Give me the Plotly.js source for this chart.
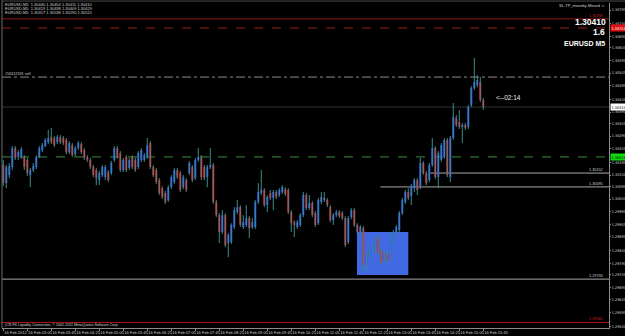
<!DOCTYPE html>
<html><head><meta charset="utf-8">
<script src="https://cdn.plot.ly/plotly-3.0.1.min.js"></script>
<style>html,body{margin:0;padding:0;background:#000;}#chart{width:625px;height:336px;}</style>
</head><body><div id="chart"></div>
<script>
// ---- EURUSD M5 candles (16 Feb 2012, 02:25 .. 15:45) ----
const opens=[
1.30180,1.30108,1.30140,1.30172,1.30247,1.30212,1.30212,1.30212,1.30200,1.30140,
1.30160,1.30172,1.30212,1.30239,1.30255,1.30271,1.30291,1.30287,1.30271,1.30291,
1.30287,1.30279,1.30231,1.30259,1.30223,1.30247,1.30263,1.30239,1.30212,1.30200,
1.30172,1.30160,1.30120,1.30140,1.30132,1.30152,1.30148,1.30200,1.30247,1.30227,
1.30160,1.30212,1.30168,1.30212,1.30200,1.30172,1.30200,1.30200,1.30212,1.30267,
1.30172,1.30160,1.30120,1.30088,1.30069,1.30041,1.30092,1.30112,1.30160,1.30148,
1.30092,1.30120,1.30148,1.30172,1.30128,1.30200,1.30208,1.30172,1.30132,1.30172,
1.30180,1.30033,1.29981,1.29914,1.29981,1.29870,1.29874,1.29934,1.29993,1.30013,
1.29934,1.29942,1.29969,1.29934,1.29934,1.30033,1.30069,1.30081,1.30021,1.30069,
1.30049,1.30073,1.30061,1.30073,1.30084,1.30081,1.29993,1.29953,1.29934,1.29942,
1.29981,1.30061,1.30009,1.30029,1.29989,1.29949,1.30033,1.30049,1.30041,1.30013,
1.29961,1.29981,1.29993,1.29989,1.29969,1.29874,1.29973,1.30001,1.29942,1.29910,
1.29930,1.29783,1.29822,1.29838,1.29842,1.29890,1.29842,1.29803,1.29830,1.29810,
1.29882,1.29902,1.29922,1.29989,1.30033,1.30073,1.30057,1.30088,1.30120,1.30092,
1.30188,1.30148,1.30120,1.30180,1.30247,1.30132,1.30200,1.30212,1.30279,1.30132,
1.30287,1.30366,1.30350,1.30331,1.30339,1.30331,1.30418,1.30485,1.30497,1.30509,1.30438];
const highs=[
1.30200,1.30180,1.30188,1.30255,1.30255,1.30239,1.30251,1.30219,1.30208,1.30168,
1.30188,1.30219,1.30255,1.30267,1.30287,1.30319,1.30327,1.30295,1.30299,1.30299,
1.30295,1.30287,1.30275,1.30267,1.30255,1.30275,1.30271,1.30247,1.30219,1.30208,
1.30180,1.30168,1.30156,1.30180,1.30180,1.30160,1.30196,1.30255,1.30255,1.30235,
1.30208,1.30219,1.30208,1.30219,1.30208,1.30235,1.30247,1.30227,1.30287,1.30275,
1.30180,1.30168,1.30128,1.30096,1.30077,1.30100,1.30140,1.30168,1.30168,1.30156,
1.30140,1.30128,1.30196,1.30180,1.30208,1.30247,1.30219,1.30180,1.30180,1.30247,
1.30188,1.30041,1.29989,1.30001,1.29989,1.29910,1.29949,1.30013,1.30041,1.30021,
1.29981,1.30021,1.29977,1.29969,1.30041,1.30108,1.30160,1.30088,1.30061,1.30081,
1.30081,1.30081,1.30088,1.30100,1.30092,1.30088,1.30001,1.29961,1.29961,1.29989,
1.30073,1.30069,1.30061,1.30037,1.29997,1.30049,1.30073,1.30073,1.30049,1.30021,
1.29989,1.30001,1.30001,1.29997,1.29977,1.29977,1.30009,1.30009,1.29949,1.29942,
1.29938,1.29830,1.29858,1.29866,1.29902,1.29898,1.29850,1.29838,1.29838,1.29910,
1.29922,1.29942,1.29997,1.30049,1.30081,1.30088,1.30104,1.30128,1.30128,1.30208,
1.30196,1.30156,1.30188,1.30287,1.30255,1.30235,1.30267,1.30287,1.30287,1.30295,
1.30426,1.30378,1.30398,1.30347,1.30347,1.30418,1.30493,1.30605,1.30537,1.30529,1.30446];
const lows=[
1.30096,1.30088,1.30128,1.30160,1.30200,1.30200,1.30204,1.30160,1.30136,1.30092,
1.30152,1.30164,1.30208,1.30231,1.30251,1.30263,1.30263,1.30251,1.30263,1.30263,
1.30259,1.30223,1.30223,1.30212,1.30215,1.30239,1.30223,1.30200,1.30192,1.30164,
1.30132,1.30100,1.30100,1.30132,1.30120,1.30112,1.30140,1.30192,1.30204,1.30152,
1.30152,1.30152,1.30160,1.30164,1.30152,1.30164,1.30192,1.30192,1.30204,1.30164,
1.30132,1.30104,1.30061,1.30045,1.30025,1.30033,1.30084,1.30104,1.30124,1.30073,
1.30084,1.30073,1.30140,1.30112,1.30120,1.30192,1.30120,1.30120,1.30092,1.30164,
1.30025,1.29973,1.29870,1.29906,1.29854,1.29814,1.29866,1.29926,1.29985,1.29934,
1.29926,1.29934,1.29890,1.29926,1.29926,1.30025,1.30061,1.30013,1.29993,1.30041,
1.30001,1.30045,1.30053,1.30065,1.30057,1.29985,1.29914,1.29894,1.29926,1.29934,
1.29973,1.30001,1.30001,1.29973,1.29934,1.29942,1.30025,1.30033,1.30013,1.29953,
1.29942,1.29973,1.29969,1.29961,1.29854,1.29866,1.29965,1.29934,1.29906,1.29902,
1.29763,1.29755,1.29810,1.29830,1.29834,1.29822,1.29783,1.29795,1.29791,1.29803,
1.29874,1.29894,1.29914,1.29981,1.30025,1.30041,1.30021,1.30073,1.30061,1.30084,
1.30140,1.30100,1.30112,1.30172,1.30124,1.30088,1.30192,1.30204,1.30132,1.30112,
1.30279,1.30331,1.30323,1.30267,1.30319,1.30323,1.30410,1.30478,1.30489,1.30430,1.30398];
const closes=[
1.30108,1.30172,1.30176,1.30247,1.30208,1.30231,1.30243,1.30172,1.30148,1.30160,
1.30176,1.30212,1.30247,1.30259,1.30279,1.30287,1.30271,1.30259,1.30291,1.30271,
1.30267,1.30231,1.30267,1.30219,1.30247,1.30267,1.30231,1.30208,1.30200,1.30172,
1.30140,1.30128,1.30148,1.30172,1.30172,1.30120,1.30188,1.30247,1.30212,1.30160,
1.30200,1.30160,1.30200,1.30172,1.30160,1.30227,1.30239,1.30219,1.30259,1.30172,
1.30140,1.30112,1.30069,1.30053,1.30033,1.30092,1.30132,1.30160,1.30132,1.30081,
1.30132,1.30081,1.30188,1.30120,1.30200,1.30212,1.30132,1.30128,1.30172,1.30180,
1.30033,1.29981,1.29914,1.29981,1.29862,1.29902,1.29942,1.30001,1.30013,1.29942,
1.29953,1.29969,1.29930,1.29953,1.30033,1.30073,1.30081,1.30021,1.30053,1.30049,
1.30073,1.30053,1.30081,1.30092,1.30065,1.29993,1.29949,1.29942,1.29953,1.29981,
1.30061,1.30009,1.30029,1.29981,1.29942,1.30041,1.30053,1.30041,1.30021,1.29961,
1.29981,1.29993,1.29977,1.29969,1.29862,1.29969,1.30001,1.29942,1.29914,1.29934,
1.29783,1.29822,1.29850,1.29858,1.29894,1.29830,1.29791,1.29830,1.29803,1.29902,
1.29914,1.29934,1.29989,1.30041,1.30073,1.30049,1.30096,1.30120,1.30081,1.30188,
1.30148,1.30108,1.30180,1.30247,1.30132,1.30227,1.30259,1.30279,1.30140,1.30287,
1.30370,1.30339,1.30331,1.30339,1.30327,1.30410,1.30485,1.30509,1.30517,1.30438,1.30410];

// time axis labels, one every 8 bars (40 minutes)
const timeLabels=["16 Feb 2012","16 Feb 03:05","16 Feb 03:45","16 Feb 04:25","16 Feb 05:05","16 Feb 05:45",
"16 Feb 06:25","16 Feb 07:05","16 Feb 07:45","16 Feb 08:25","16 Feb 09:05","16 Feb 09:45","16 Feb 10:25",
"16 Feb 11:05","16 Feb 11:45","16 Feb 12:25","16 Feb 13:05","16 Feb 13:45","16 Feb 14:25","16 Feb 15:05","16 Feb 15:45"];
const labelStep=8;

// price scale labels
const priceLabels=["1.30795","1.30740","1.30690","1.30645","1.30595","1.30545","1.30495","1.30440","1.30390",
"1.30345","1.30295","1.30245","1.30190","1.30140","1.30095","1.30045","1.29995","1.29945","1.29895",
"1.29840","1.29790","1.29745","1.29695","1.29645","1.29595","1.29540"];

// horizontal levels
const redTop=1.30760, redDash=1.30724, orderLevel=1.30529, bid=1.30410, greenLevel=1.30212;
const grayA=1.30148, grayB=1.30093, grayC=1.29727, redBottom=1.29555;
const grayAStart=142.3, grayBStart=125.7;
// highlighted range box
const boxX=[117.9,135.0], boxY=[1.29743,1.29914];

const BULL="#2d5cff", BEAR="#ee1c1c", WICK="#3d8a8a";
const n=opens.length;
const idx=opens.map((_,i)=>i);
const wx=[],wy=[];
for(let i=0;i<n;i++){wx.push(i,i,null);wy.push(lows[i],highs[i],null);}
const base=opens.map((o,i)=>Math.min(o,closes[i]));
const hgt=opens.map((o,i)=>Math.max(Math.abs(closes[i]-o),0.000025));
const cols=opens.map((o,i)=>closes[i]>=o?BULL:BEAR);

const FONT="Liberation Sans, Arial, sans-serif";
const NARROW="Liberation Sans Narrow, DejaVu Sans Condensed, Liberation Sans, sans-serif";
const traces=[
 {type:'scatter',mode:'lines',x:wx,y:wy,line:{color:WICK,width:1},hoverinfo:'skip',showlegend:false},
 {type:'bar',x:idx,y:hgt,base:base,width:0.66,marker:{color:cols,line:{width:0}},hoverinfo:'skip',showlegend:false}
];

function hline(y,color,dash,x0){return {type:'line',xref:x0===undefined?'paper':'x',yref:'y',x0:x0===undefined?0:x0,x1:x0===undefined?1:201.9,y0:y,y1:y,line:{color:color,width:1,dash:dash||'solid'},layer:'below'};}
const shapes=[
 {type:'rect',xref:'x',yref:'y',x0:boxX[0],x1:boxX[1],y0:boxY[0],y1:boxY[1],fillcolor:'#4169e1',line:{width:0},layer:'below'},
 hline(redTop,'#8e1a1a'),
 hline(redDash,'#9a1c1c','dash'),
 hline(orderLevel,'#8a8a8a','dashdot'),
 hline(bid,'#333333'),
 hline(greenLevel,'#3c8f3c','dash'),
 hline(grayA,'#a8a8a8','solid',grayAStart),
 hline(grayB,'#a8a8a8','solid',grayBStart),
 hline(grayC,'#a8a8a8'),
 hline(redBottom,'#b01414'),
 {type:'line',xref:'paper',yref:'paper',x0:0,x1:0,y0:0,y1:1.01,line:{color:'#6a6a6a',width:1}},
 {type:'line',xref:'paper',yref:'paper',x0:0,x1:1.03,y0:1.006,y1:1.006,line:{color:'#4a4a4a',width:1}}
];

function txt(x,y,t,opt){return Object.assign({x:x,y:y,text:t,showarrow:false,xref:'paper',yref:'paper',
 font:{family:FONT,size:4,color:'#d0d0d0'},xanchor:'left',yanchor:'middle'},opt||{});}
const annotations=[
 txt(0.002,0.9969,'EURUSD,M5  1.30440 1.30454 1.30411 1.30410'),
 txt(0.002,0.9846,'EURUSD,M5  1.30419 1.30438 1.30409 1.30429'),
 txt(0.002,0.9714,'EURUSD,M5  1.30317 1.30538 1.30290 1.30521'),
 txt(0.997,0.9938,'SL-TP_moveby-Moved \u263A',{xanchor:'right'}),
 txt(0.999,0.9415,'1.30410',{xanchor:'right',font:{family:FONT,size:8.5,color:'#ffffff',weight:'bold'}}),
 txt(0.997,0.9108,'1.6',{xanchor:'right',font:{family:FONT,size:8.5,color:'#ffffff',weight:'bold'}}),
 txt(0.997,0.8769,'EURUSD M5',{xanchor:'right',font:{family:FONT,size:7,color:'#ffffff',weight:'bold'}}),
 txt(0.002,0.0077,'(CN FX Liquidity Connection, \u00A9 2001-2011 MetaQuotes Software Corp.',{font:{family:FONT,size:3.6,color:'#d0d0d0'}}),
 {x:0,y:orderLevel,xref:'x',yref:'y',text:'#56112591 sell',showarrow:false,xanchor:'left',yanchor:'bottom',yshift:-1,font:{family:FONT,size:3.8,color:'#d0d0d0'}},
 {x:163.6,y:1.30446,xref:'x',yref:'y',text:'<--02:14',showarrow:false,xanchor:'left',yanchor:'middle',font:{family:FONT,size:6.5,color:'#e8e8e8'}},
 {x:0.994,y:redTop,xref:'paper',yref:'y',text:'1.30759',showarrow:false,xanchor:'right',yanchor:'bottom',yshift:-1,font:{family:FONT,size:3.8,color:'#d02020'}},
 {x:0.994,y:grayA,xref:'paper',yref:'y',text:'1.30152',showarrow:false,xanchor:'right',yanchor:'bottom',yshift:-1,font:{family:FONT,size:3.8,color:'#d0d0d0'}},
 {x:0.994,y:grayB,xref:'paper',yref:'y',text:'1.30095',showarrow:false,xanchor:'right',yanchor:'bottom',yshift:-1,font:{family:FONT,size:3.8,color:'#d0d0d0'}},
 {x:0.994,y:grayC,xref:'paper',yref:'y',text:'1.29733',showarrow:false,xanchor:'right',yanchor:'bottom',yshift:-1,font:{family:FONT,size:3.8,color:'#d0d0d0'}},
 {x:0.994,y:redBottom,xref:'paper',yref:'y',text:'1.29565',showarrow:false,xanchor:'right',yanchor:'bottom',yshift:-1,font:{family:FONT,size:3.8,color:'#d02020'}},
 {x:1,y:redDash,xref:'paper',yref:'y',text:'1.30724',showarrow:false,xanchor:'left',xshift:1,bgcolor:'#e01010',borderpad:0.5,font:{family:NARROW,size:3.8,color:'#ffffff'}},
 {x:1,y:bid,xref:'paper',yref:'y',text:'1.30410',showarrow:false,xanchor:'left',xshift:1,bgcolor:'#ffffff',borderpad:0.5,font:{family:NARROW,size:3.8,color:'#000000'}},
 {x:1,y:greenLevel,xref:'paper',yref:'y',text:'1.30214',showarrow:false,xanchor:'left',xshift:1,bgcolor:'#10dd10',borderpad:0.5,font:{family:NARROW,size:3.8,color:'#000000'}}
];

const layout={
 width:625,height:336,paper_bgcolor:'#000',plot_bgcolor:'#000',
 margin:{l:2,r:16,t:3,b:8},barmode:'overlay',showlegend:false,
 xaxis:{range:[-0.43,201.9],showgrid:false,zeroline:false,showline:true,linecolor:'#8a8a8a',linewidth:1,
   tickvals:timeLabels.map((_,k)=>k*labelStep),ticktext:timeLabels,ticks:'outside',ticklen:2,tickcolor:'#8a8a8a',
   ticklabelposition:'outside right',tickangle:0,tickfont:{family:FONT,size:4,color:'#d0d0d0'},automargin:false,fixedrange:true},
 yaxis:{range:[1.29533,1.30823],side:'right',showgrid:false,zeroline:false,showline:true,linecolor:'#8a8a8a',linewidth:1,
   tickvals:priceLabels.map(Number),ticktext:priceLabels,ticks:'outside',ticklen:1,tickcolor:'#8a8a8a',ticklabelstandoff:0,
   tickfont:{family:NARROW,size:3.8,color:'#d0d0d0'},automargin:false,fixedrange:true},
 shapes:shapes,annotations:annotations
};
Plotly.newPlot('chart',traces,layout,{staticPlot:true,displayModeBar:false});
</script></body></html>
